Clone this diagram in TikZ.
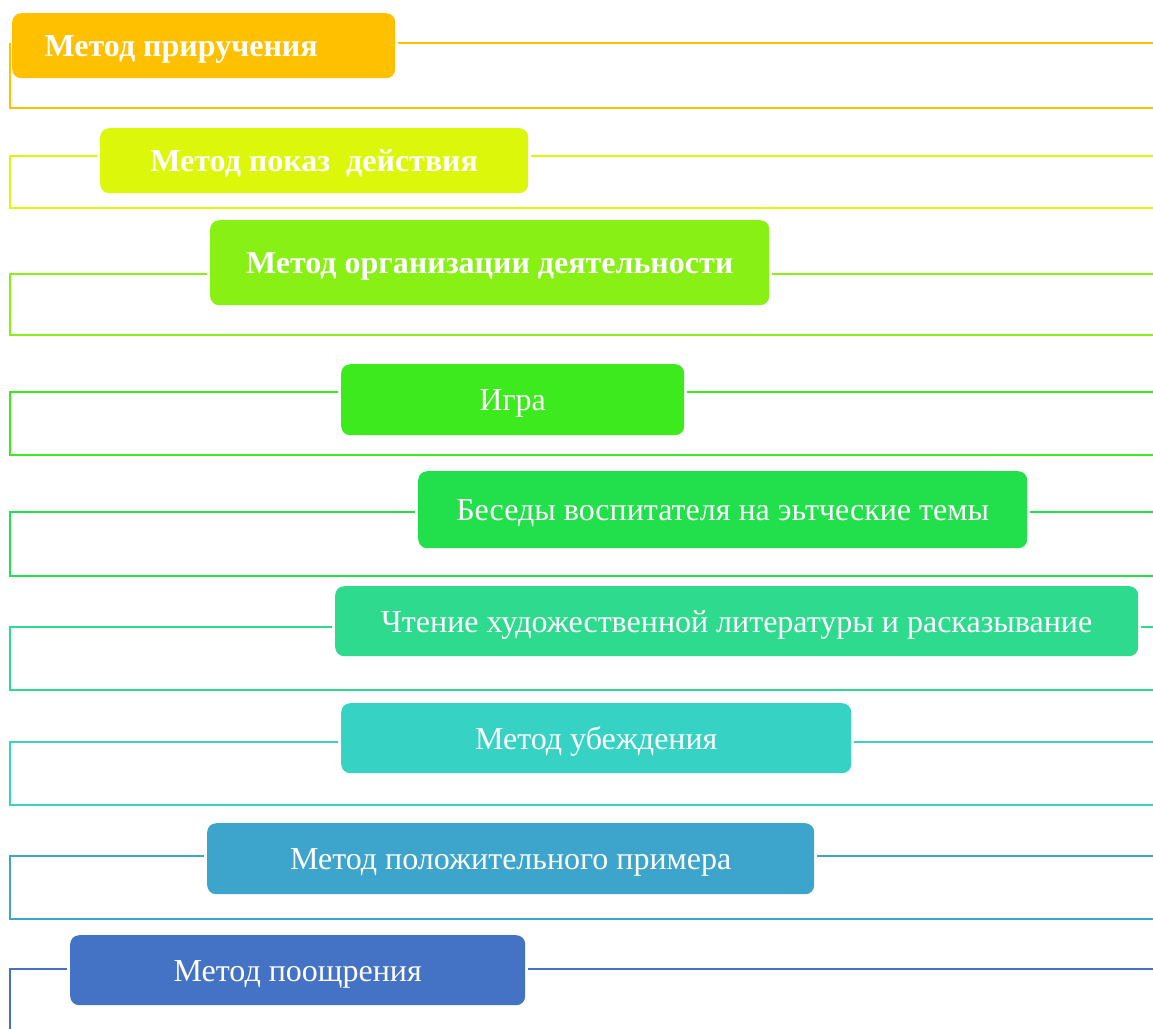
\documentclass[tikz,border=0pt]{standalone}
\usepackage{fontspec}
\setmainfont{Liberation Serif}
\definecolor{c1}{HTML}{FFC000}
\definecolor{c2}{HTML}{DCF70A}
\definecolor{c3}{HTML}{88F015}
\definecolor{c4}{HTML}{3DEA1E}
\definecolor{c5}{HTML}{22E04C}
\definecolor{c6}{HTML}{2EDB8E}
\definecolor{c7}{HTML}{36D3C4}
\definecolor{c8}{HTML}{3DA4CB}
\definecolor{c9}{HTML}{4472C4}
\begin{document}
\begin{tikzpicture}[x=1pt,y=-1pt,
  box/.style={rounded corners=9pt, inner sep=0pt, anchor=north west, text=white,
    text height=22pt, text depth=0pt, font=\fontsize{32}{36}\selectfont},
  conn/.style={line width=2.8pt, line join=miter}]
\useasboundingbox (0,0) rectangle (1153,1028);
% boxes
\node[box, fill=c1, minimum width=383pt, minimum height=65pt] (b1) at (12,13) {\bfseries Метод приручения\rule{45pt}{0pt}};
\node[box, fill=c2, minimum width=428pt, minimum height=65pt] (b2) at (100,128) {\bfseries Метод показ\ \ действия};
\node[box, fill=c3, minimum width=559pt, minimum height=85pt] (b3) at (210,220) {\bfseries Метод организации деятельности};
\node[box, fill=c4, minimum width=343pt, minimum height=71pt] (b4) at (341,364) {Игра};
\node[box, fill=c5, minimum width=609pt, minimum height=77pt] (b5) at (418,471) {Беседы воспитателя на эьтческие темы};
\node[box, fill=c6, minimum width=803pt, minimum height=70pt] (b6) at (335,586) {Чтение художественной литературы и расказывание};
\node[box, fill=c7, minimum width=510pt, minimum height=70pt] (b7) at (341,703) {Метод убеждения};
\node[box, fill=c8, minimum width=607pt, minimum height=71pt] (b8) at (207,823) {Метод положительного примера};
\node[box, fill=c9, minimum width=455pt, minimum height=70pt] (b9) at (70,935) {Метод поощрения};
% line end points
\foreach \i/\yl/\yb in {1/43/108, 2/156/208, 3/274/335, 4/392/455, 5/512/576, 6/627/690, 7/742/805, 8/856/919, 9/969/1030}{
  \coordinate (L\i) at (10,\yl);
  \coordinate (R\i) at (1153,\yl);
  \coordinate (B\i) at (10,\yb);
  \coordinate (E\i) at (1153,\yb);
}
% connectors
\draw[conn, c1] (L1) -- (B1) -- (E1);
\draw[conn, c1, shorten <=3pt] (b1.east |- R1) -- (R1);
\foreach \i in {2,...,8}{
  \draw[conn, c\i, shorten <=3pt] (b\i.west |- L\i) -- (L\i) -- (B\i) -- (E\i);
  \draw[conn, c\i, shorten <=3pt] (b\i.east |- R\i) -- (R\i);
}
\draw[conn, c9, shorten <=3pt] (b9.west |- L9) -- (L9) -- (B9);
\draw[conn, c9, shorten <=3pt] (b9.east |- R9) -- (R9);
\end{tikzpicture}
\end{document}
